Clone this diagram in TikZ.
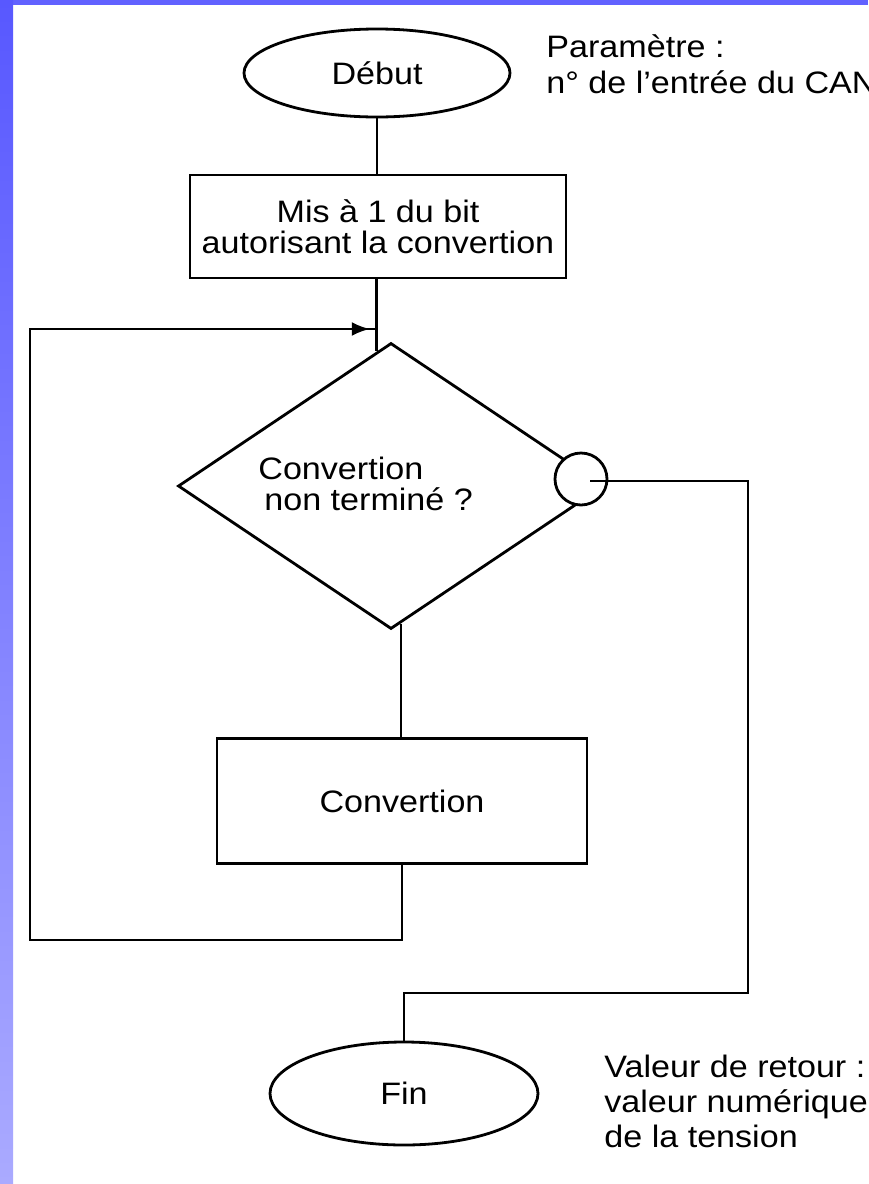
\documentclass[tikz,border=0pt]{standalone}
\usepackage{fontspec}
\setmainfont{Liberation Sans}[FakeStretch=1.1]
\usetikzlibrary{shapes.geometric,arrows.meta,calc}
\definecolor{frameTop}{RGB}{98,98,255}
\definecolor{frameHi}{RGB}{88,88,255}
\definecolor{frameMid}{RGB}{36,36,240}
\definecolor{frameLo}{RGB}{170,170,255}
\begin{document}
\begin{tikzpicture}[x=1pt,y=-1pt,
  line width=2.8pt,
  every node/.style={font=\fontsize{31}{31}\selectfont},
  terminal/.style={draw, ellipse, inner sep=0pt},
  process/.style={draw, rectangle, align=center, inner sep=0pt},
  decision/.style={draw, diamond, inner sep=0pt},
  joint/.style={draw, circle, fill=white, inner sep=0pt, minimum size=52pt},
  note/.style={anchor=base west, align=left, inner sep=0pt, font=\fontsize{31}{35}\selectfont},
  wire/.style={line width=2.8pt}
]
% page and slide frame
\fill[white] (0,0) rectangle (868,1184);
\useasboundingbox (0,0) rectangle (868,1184);
\fill[frameTop] (0,0) rectangle (868,5);
\shade[top color=frameHi, middle color=frameMid, bottom color=frameLo, draw=none] (0,0) rectangle (13,1184);

% blocks
\node[terminal, minimum width=266pt, minimum height=88pt] (debut) at (377,73) {Début};
\node[process, minimum width=376pt, minimum height=103pt] (init) at (378,226.5)
  {Mis à 1 du bit\\autorisant la convertion};
\node[decision, minimum width=426pt, minimum height=286pt] (test) at (391,486) {};
\node[anchor=west, align=left, inner sep=0pt] (testtxt) at (257,484)
  {Convertion\\\hspace*{6pt}non terminé ?};
\node[joint] (yes) at (581,479) {};
\node[process, minimum width=370pt, minimum height=125pt] (conv) at (402,801) {Convertion};
\node[terminal, minimum width=268pt, minimum height=103pt] (fin) at (404,1093.5) {Fin};

% side notes (anchored on the baseline of their last line)
\node[note, font=\fontsize{31}{36}\selectfont] (param) at (545,93) {Paramètre :\\n° de l'entrée du CAN};
\node[note] (retour) at (603,1147) {Valeur de retour :\\valeur numérique\\de la tension};

% points on the decision outline
\coordinate (tin) at ($(test.north)!0.066!(test.west)$);
\coordinate (tout) at ($(test.south)!0.047!(test.east)$);
\coordinate (join) at (tin |- 0,329);

% connectors
\draw[wire] (debut.south) -- (debut.south |- init.north);
\draw[wire] (tin |- init.south) -- (tin);
\draw[wire] (tout) -- (tout |- conv.north);
\draw[wire] (conv.south) |- (30,940) |- (join);
\draw[wire, -{Latex[length=18pt,width=14pt]}] ($(join)+(-40,0)$) -- ($(join)+(-7,0)$);
\draw[wire] ($(yes.center)+(9,2)$) -| (748,993) -| (fin.north);
\end{tikzpicture}
\end{document}
